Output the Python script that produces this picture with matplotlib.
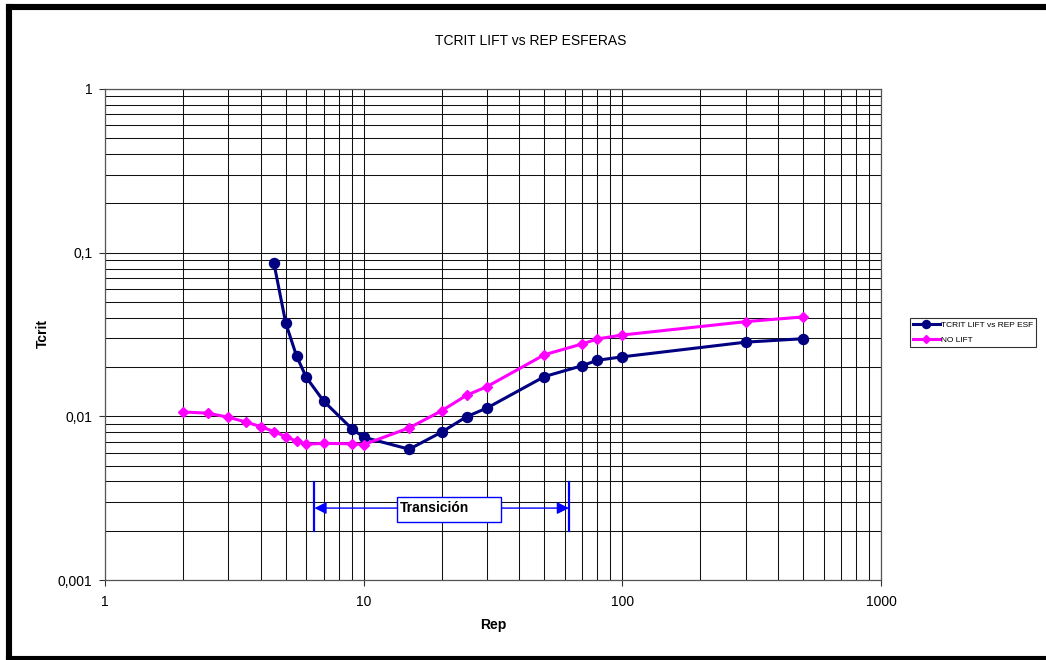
import numpy as np
import matplotlib
matplotlib.use("Agg")
import matplotlib.pyplot as plt
from matplotlib.lines import Line2D
from matplotlib.patches import Rectangle

plt.rcParams['font.family'] = ['Liberation Sans', 'DejaVu Sans']

# TCRIT LIFT vs REP ESF
rep_lift = [4.5, 5, 5.5, 6, 7, 9, 10, 15, 20, 25, 30, 50, 70, 80, 100, 300, 500]
tcrit_lift = [0.086, 0.037, 0.0234, 0.0173, 0.0124, 0.0084, 0.00745, 0.0063,
              0.0080, 0.00995, 0.01125, 0.0175, 0.0204, 0.0220, 0.0231, 0.0284, 0.0298]

# NO LIFT
rep_nolift = [2, 2.5, 3, 3.5, 4, 4.5, 5, 5.5, 6, 7, 9, 10, 15, 20, 25, 30, 50, 70, 80, 100, 300, 500]
tcrit_nolift = [0.01064, 0.01045, 0.00987, 0.00924, 0.00865, 0.00807, 0.00752, 0.00705,
                0.00676, 0.00683, 0.0068, 0.00672, 0.0085, 0.0108, 0.01345, 0.0152,
                0.0238, 0.0277, 0.0297, 0.0314, 0.0379, 0.0405]

x_ticks = [1, 10, 100, 1000]
x_labels = ["1", "10", "100", "1000"]
y_ticks = [0.001, 0.01, 0.1, 1]
y_labels = ["0,001", "0,01", "0,1", "1"]

W, H = 1046, 660


def main():
    fig = plt.figure(figsize=(W / 100, H / 100), dpi=100)
    ax = fig.add_axes([105 / W, 1 - 580 / H, (881 - 105) / W, (580 - 89) / H])

    ax.set_xscale('log')
    ax.set_yscale('log')
    ax.set_xlim(1, 1000)
    ax.set_ylim(0.001, 1)

    ax.grid(True, which='both', color='#111111', linewidth=0.75)
    ax.set_axisbelow(True)
    for sp in ax.spines.values():
        sp.set_color('#555555')
        sp.set_linewidth(0.9)

    ax.set_xticks(x_ticks, x_labels)
    ax.set_yticks(y_ticks, y_labels)
    ax.minorticks_on()
    ax.tick_params(which='minor', length=0)
    ax.tick_params(which='major', length=4, width=0.8, color='#333333',
                   labelsize=10, direction='out')
    ax.tick_params(axis='x', pad=7)
    ax.tick_params(axis='y', pad=5)
    ax.xaxis.set_minor_formatter(plt.NullFormatter())
    ax.yaxis.set_minor_formatter(plt.NullFormatter())

    ax.plot(rep_lift, tcrit_lift, color='#000080', linewidth=2.2, marker='o',
            markersize=7.2, label='TCRIT LIFT vs REP ESF', zorder=3)
    ax.plot(rep_nolift, tcrit_nolift, color='#FF00FF', linewidth=2.2, marker='D',
            markersize=4.6, label='NO LIFT', zorder=4)

    # Transicion annotation
    blue = '#0000FF'
    x_left, x_right = 6.45, 62.2
    for xv in (x_left, x_right):
        ax.plot([xv, xv], [0.002, 0.00397], color=blue, linewidth=1.6, zorder=5)
    box_x0, box_x1 = 13.42, 33.86
    box_y0, box_y1 = 0.002254, 0.003232
    y_arrow = 0.00275
    ax.add_patch(Rectangle((box_x0, box_y0), box_x1 - box_x0, box_y1 - box_y0,
                           facecolor='white', edgecolor=blue, linewidth=1.0, zorder=6))
    ax.text(13.81, y_arrow, "Transición", fontsize=10, fontweight='bold',
            ha='left', va='center', zorder=7)
    arrow = dict(arrowstyle='-|>,head_length=0.6,head_width=0.3', color=blue,
                 linewidth=1.0, mutation_scale=12, shrinkA=0, shrinkB=0)
    ax.annotate('', xy=(x_left, y_arrow), xytext=(box_x0, y_arrow), arrowprops=arrow, zorder=5)
    ax.annotate('', xy=(x_right, y_arrow), xytext=(box_x1, y_arrow), arrowprops=arrow, zorder=5)

    leg = fig.legend(loc='upper left', bbox_to_anchor=(910 / W, 1 - 318 / H),
                     fontsize=6.0, frameon=True, fancybox=False, edgecolor='black',
                     handlelength=3.2, handletextpad=0.15, borderpad=0.35,
                     labelspacing=0.85, borderaxespad=0)
    leg.get_frame().set_linewidth(0.8)
    for h in leg.legend_handles:
        h.set_markersize(h.get_markersize() * 0.8)

    fig.text(531 / W, 1 - 41 / H, "TCRIT LIFT vs REP ESFERAS", fontsize=10,
             ha='center', va='center')
    fig.text(493 / W, 1 - 625 / H, "Rep", fontsize=10, fontweight='bold',
             ha='center', va='center')
    fig.text(43 / W, 1 - 333 / H, "Tcrit", fontsize=10, fontweight='bold',
             ha='center', va='center', rotation=90)

    # chart border (right side is cut off in the original)
    lw = 4.4
    fig.add_artist(Line2D([9 / W, 9 / W], [0, 1 - 7 / H], transform=fig.transFigure,
                          color='black', linewidth=lw, solid_capstyle='projecting'))
    fig.add_artist(Line2D([9 / W, 1], [1 - 7 / H, 1 - 7 / H], transform=fig.transFigure,
                          color='black', linewidth=lw, solid_capstyle='projecting'))
    fig.add_artist(Line2D([9 / W, 1], [1 - 659 / H, 1 - 659 / H], transform=fig.transFigure,
                          color='black', linewidth=lw, solid_capstyle='projecting'))

    fig.savefig('out.png', dpi=100)


if __name__ == '__main__':
    main()
